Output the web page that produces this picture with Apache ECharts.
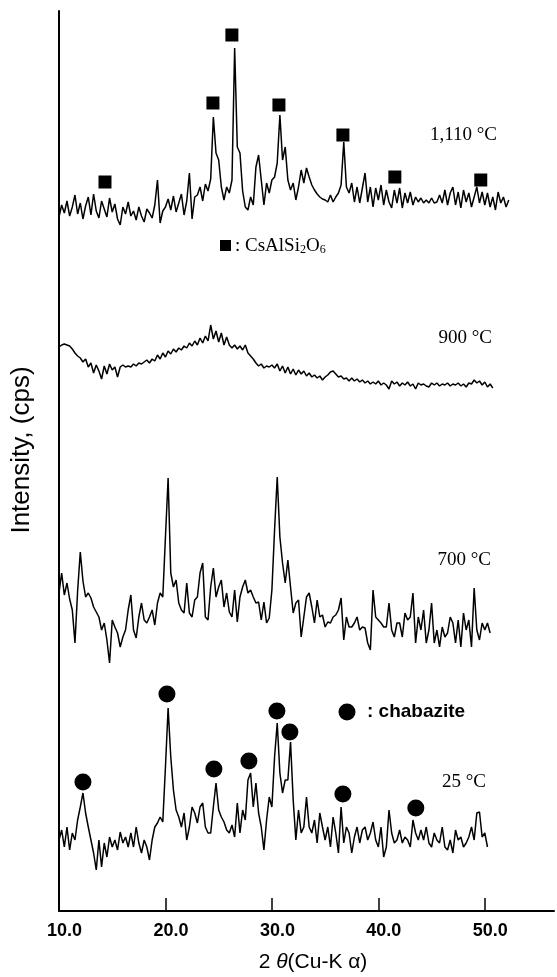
<!DOCTYPE html>
<html>
<head>
<meta charset="utf-8">
<script src="https://cdn.jsdelivr.net/npm/echarts@6/dist/echarts.min.js"></script>
<style>
html,body{margin:0;padding:0;background:#fff;}
#chart{width:557px;height:977px;}
</style>
</head>
<body>
<div id="chart"></div>
<script>
// ---- data (2θ start/step, intensities) ----
const theta0 = 10;
const step = 0.25;
const sampleNames = ['1,110 °C', '900 °C', '700 °C', '25 °C'];
const stackOffsets = [680, 500, 230, 30];

const i1110 = [
  14, 26, 18, 30, 15, 24, 36, 17, 28, 12, 25, 34, 16, 37, 20, 13,
  30, 22, 14, 33, 19, 27, 12, 6, 24, 17, 29, 15,
  20, 11, 24, 15, 9, 22, 18, 13, 26, 51, 8, 20,
  24, 32, 21, 35, 19, 28, 37, 16, 30, 58, 12, 34,
  36, 44, 30, 47, 40, 52, 114, 78,
  71, 44, 31, 44, 38, 51, 183, 84, 78, 40, 24, 21,
  34, 26, 64, 76, 51, 26, 48, 38, 51, 54, 68, 116,
  71, 84, 51, 41, 48, 31, 44, 61, 48, 63, 54, 46,
  41, 37, 34, 32, 31, 29, 36, 29, 34, 38, 46, 89,
  44, 38, 48, 29, 44, 28, 43, 58, 29, 44, 24, 43,
  31, 46, 26, 41, 29, 23, 41, 28, 43, 23, 38, 28,
  39, 26, 34, 29, 33, 28, 31, 28, 33, 28, 29, 36,
  28, 41, 26, 38, 44, 26, 39, 23, 41, 29, 38, 24,
  34, 44, 28, 39, 26, 38, 24, 34, 21, 39, 28, 34,
  24, 31
];

const i900 = [
  64, 66, 67, 66, 65, 62, 58, 55, 53, 49, 52, 44,
  48, 38, 46, 40, 32, 45, 37, 47, 41, 44, 34, 44,
  46, 44, 45, 44, 47, 45, 48, 47, 49, 51, 48, 52,
  50, 56, 52, 58, 54, 60, 57, 62, 59, 63, 61, 65,
  63, 68, 65, 70, 66, 73, 68, 75, 70, 86, 72, 80,
  69, 78, 66, 74, 66, 63, 66, 62, 65, 61, 66, 58,
  55, 52, 48, 45, 47, 43, 45, 44, 46, 43, 47, 40,
  45, 38, 44, 37, 42, 36, 41, 37, 40, 35, 38, 34,
  36, 33, 35, 31, 34, 36, 39, 40, 37, 34, 35, 32,
  33, 30, 33, 30, 32, 29, 31, 28, 30, 27, 29, 27,
  30, 26, 28, 26, 22, 30, 27, 29, 25, 28, 26, 29,
  25, 27, 22, 28, 26, 27, 25, 24, 28, 26, 28, 25,
  27, 26, 28, 25, 27, 26, 28, 25, 27, 24, 28, 27,
  31, 28, 30, 26, 29, 24, 27, 23
];

const i700 = [
  88, 108, 86, 98, 82, 71, 38, 90, 129, 100, 84, 88,
  83, 74, 69, 64, 51, 58, 41, 18, 61, 54, 48, 34,
  44, 51, 71, 86, 51, 43, 64, 78, 61, 58, 64, 71,
  56, 78, 88, 84, 144, 203, 108, 94, 101, 78, 71, 68,
  98, 68, 64, 81, 84, 108, 118, 64, 61, 94, 113, 84,
  94, 101, 74, 88, 69, 64, 91, 59, 84, 94, 101, 88,
  91, 84, 78, 79, 61, 79, 58, 63, 91, 151, 204, 144,
  118, 98, 121, 94, 68, 78, 81, 44, 64, 84, 88, 74,
  58, 81, 64, 66, 54, 59, 58, 64, 66, 71, 83, 41,
  64, 54, 54, 58, 64, 51, 54, 53, 38, 31, 91, 64,
  61, 58, 54, 54, 78, 51, 44, 58, 58, 44, 68, 61,
  64, 88, 38, 64, 51, 71, 38, 51, 78, 38, 51, 34,
  54, 44, 48, 64, 58, 38, 61, 34, 68, 51, 61, 34,
  93, 51, 41, 58, 51, 58, 48
];

const i25 = [
  41, 51, 34, 54, 31, 48, 41, 61, 74, 88, 68, 54,
  41, 28, 11, 41, 14, 38, 24, 44, 34, 41, 31, 49,
  38, 44, 34, 48, 34, 54, 38, 28, 41, 34, 21, 41,
  54, 58, 64, 59, 114, 173, 124, 91, 71, 64, 54, 68,
  41, 54, 74, 68, 58, 74, 78, 54, 48, 48, 74, 98,
  71, 64, 59, 51, 48, 56, 44, 78, 48, 71, 61, 101,
  108, 74, 98, 68, 54, 31, 61, 84, 74, 124, 158, 108,
  88, 101, 101, 139, 81, 41, 71, 48, 54, 84, 54, 48,
  61, 38, 68, 54, 41, 54, 34, 64, 48, 28, 74, 38,
  54, 48, 28, 44, 54, 38, 51, 54, 41, 48, 59, 41,
  34, 54, 24, 34, 71, 48, 38, 41, 51, 38, 44, 41,
  34, 61, 48, 41, 51, 41, 54, 38, 34, 48, 41, 38,
  54, 34, 31, 41, 28, 51, 41, 44, 34, 38, 44, 54,
  41, 68, 69, 44, 48, 34
];

// peak markers: CsAlSi2O6 (squares) on 1,110 °C, chabazite (circles) on 25 °C
const pollX = [14.32, 24.46, 26.24, 30.66, 36.67, 41.55, 49.62];
const pollY = [729, 808, 876, 806, 776, 734, 731];
const chabX = [12.25, 20.14, 24.55, 27.84, 30.47, 31.69, 36.67, 43.52];
const chabY = [129, 217, 142, 150, 200, 179, 117, 103];

const xTickValues = [10, 20, 30, 40, 50];

// ---- build ----
const traces = [i1110, i900, i700, i25];
const SANS = '"Liberation Sans", Arial, sans-serif';
const SERIF = '"Liberation Serif", "Times New Roman", serif';

const lineSeries = traces.map((vals, k) => ({
  type: 'line',
  name: sampleNames[k],
  showSymbol: false,
  symbol: 'none',
  silent: true,
  lineStyle: { color: '#000', width: 1.5 },
  data: vals.map((v, i) => [theta0 + i * step, v + stackOffsets[k]])
}));

const chart = echarts.init(document.getElementById('chart'), null, { renderer: 'canvas' });
chart.setOption({
  animation: false,
  backgroundColor: '#fff',
  grid: { left: 59, right: 3, top: 11, bottom: 66 },
  xAxis: {
    type: 'value',
    min: 10,
    max: 56.5,
    splitLine: { show: false },
    axisLine: { lineStyle: { color: '#000', width: 2 } },
    axisTick: { inside: true, length: 13, customValues: [20, 30, 40, 50], lineStyle: { color: '#000', width: 1.5 } },
    axisLabel: {
      customValues: xTickValues,
      formatter: v => Number(v).toFixed(1),
      color: '#000', fontFamily: SANS, fontWeight: 'bold', fontSize: 18,
      margin: 11, padding: [0, 0, 0, 11]
    }
  },
  yAxis: {
    type: 'value',
    min: 0,
    max: 900,
    splitLine: { show: false },
    axisLine: { show: true, lineStyle: { color: '#000', width: 2 } },
    axisTick: { show: false },
    axisLabel: { show: false }
  },
  series: lineSeries.concat([
    {
      type: 'scatter', symbol: 'rect', symbolSize: 13, silent: true,
      itemStyle: { color: '#000', opacity: 1 },
      data: pollX.map((x, i) => [x, pollY[i]])
    },
    {
      type: 'scatter', symbol: 'circle', symbolSize: 17, silent: true,
      itemStyle: { color: '#000', opacity: 1 },
      data: chabX.map((x, i) => [x, chabY[i]])
    }
  ]),
  graphic: [
    { type: 'text', x: 497, y: 135, style: { text: sampleNames[0], font: '19px ' + SERIF, fill: '#000', textAlign: 'right', textVerticalAlign: 'middle' } },
    { type: 'text', x: 492, y: 338, style: { text: sampleNames[1], font: '19px ' + SERIF, fill: '#000', textAlign: 'right', textVerticalAlign: 'middle' } },
    { type: 'text', x: 491, y: 560, style: { text: sampleNames[2], font: '19px ' + SERIF, fill: '#000', textAlign: 'right', textVerticalAlign: 'middle' } },
    { type: 'text', x: 486, y: 782, style: { text: sampleNames[3], font: '19px ' + SERIF, fill: '#000', textAlign: 'right', textVerticalAlign: 'middle' } },
    { type: 'rect', shape: { x: 220, y: 240, width: 11, height: 11 }, style: { fill: '#000' } },
    {
      type: 'text', x: 235, y: 246,
      style: {
        text: '{a|: CsAlSi}{s|2}{a|O}{s|6}',
        fill: '#000', textVerticalAlign: 'middle',
        rich: {
          a: { fontFamily: SERIF, fontSize: 19, fill: '#000' },
          s: { fontFamily: SERIF, fontSize: 12, fill: '#000', padding: [8, 0, 0, 0] }
        }
      }
    },
    { type: 'circle', shape: { cx: 347, cy: 712, r: 8.5 }, style: { fill: '#000' } },
    { type: 'text', x: 367, y: 712, style: { text: ': chabazite', font: 'bold 19px ' + SANS, fill: '#000', textVerticalAlign: 'middle' } },
    {
      type: 'text', x: 22, y: 450, rotation: Math.PI / 2,
      style: { text: 'Intensity, (cps)', font: '26px ' + SANS, fill: '#000', textAlign: 'center', textVerticalAlign: 'middle' }
    },
    {
      type: 'text', x: 313, y: 962,
      style: {
        text: '{r|2 }{i|θ}{r|(Cu-K α)}',
        fill: '#000', textAlign: 'center', textVerticalAlign: 'middle',
        rich: {
          r: { fontFamily: SANS, fontSize: 21, fill: '#000' },
          i: { fontFamily: SANS, fontSize: 21, fontStyle: 'italic', fill: '#000' }
        }
      }
    }
  ]
});
</script>
</body>
</html>
